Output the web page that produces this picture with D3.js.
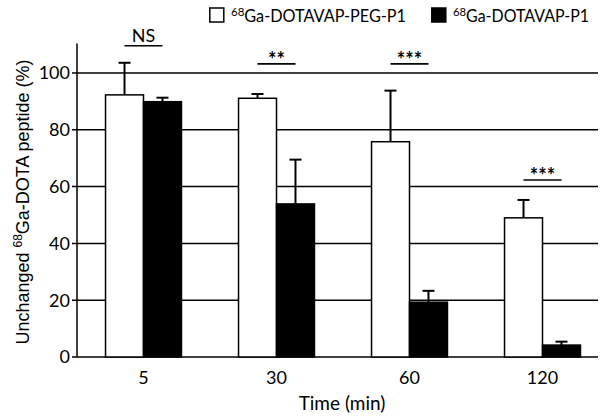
<!DOCTYPE html>
<html><head><meta charset="utf-8">
<script src="https://cdn.jsdelivr.net/npm/d3@7"></script>
<style>body{margin:0;background:#fff}svg{display:block}</style>
</head><body>
<svg id="c" width="600" height="419"></svg>
<script>
const categories = ["5", "30", "60", "120"];
const seriesNames = ["DOTAVAP-PEG-P1", "DOTAVAP-P1"];
const pegMeans = [92.3, 91.1, 75.8, 49.0];
const pegErr = [11.3, 1.5, 18.0, 6.3];
const p1Means = [89.9, 53.9, 19.3, 4.2];
const p1Err = [1.4, 15.6, 4.0, 1.2];
const yTicks = [0, 20, 40, 60, 80, 100];
const sigLabels = ["NS", "**", "***", "***"];
const sigLevels = [109.6, 103.2, 103.2, 62.3];

const svg = d3.select("#c");
const x0 = 77, xEnd = 598;
const y = d3.scaleLinear().domain([0, 110]).range([357, 44.6]);
const x = d3.scaleBand().domain(categories).range([77, 609]).paddingInner(0.429).paddingOuter(0.2145);
const xs = d3.scaleBand().domain(["peg", "p1"]).range([0, x.bandwidth()]);

// gridlines
svg.append("g").selectAll("line").data(yTicks).join("line")
  .attr("x1", x0 - 5).attr("x2", xEnd)
  .attr("y1", d => y(d)).attr("y2", d => y(d))
  .attr("stroke", "#000").attr("stroke-width", 1.5);
// y axis line
svg.append("line").attr("x1", x0).attr("x2", x0).attr("y1", y(110) - 1).attr("y2", y(0))
  .attr("stroke", "#000").attr("stroke-width", 1.5);
// y tick labels
svg.append("g").selectAll("text").data(yTicks).join("text")
  .attr("x", x0 - 7).attr("y", d => y(d)).attr("dy", "0.36em")
  .attr("text-anchor", "end").attr("font-family", "Lato").attr("font-size", 18)
  .text(d => d);

const rows = categories.map((c, i) => ([
  {c, k: "peg", v: pegMeans[i], e: pegErr[i], fill: "#fff"},
  {c, k: "p1", v: p1Means[i], e: p1Err[i], fill: "#000"}
])).flat();

// error bars (behind)
const eg = svg.append("g");
rows.forEach(d => {
  const cx = x(d.c) + xs(d.k) + xs.bandwidth() / 2;
  eg.append("line").attr("x1", cx).attr("x2", cx).attr("y1", y(d.v)).attr("y2", y(d.v + d.e))
    .attr("stroke", "#000").attr("stroke-width", 2);
  eg.append("line").attr("x1", cx - 6).attr("x2", cx + 6).attr("y1", y(d.v + d.e)).attr("y2", y(d.v + d.e))
    .attr("stroke", "#000").attr("stroke-width", 2);
});

// bars
svg.append("g").selectAll("rect").data(rows).join("rect")
  .attr("x", d => x(d.c) + xs(d.k)).attr("width", xs.bandwidth())
  .attr("y", d => y(d.v)).attr("height", d => y(0) - y(d.v))
  .attr("fill", d => d.fill).attr("stroke", "#000").attr("stroke-width", 1.5);

// x labels
svg.append("g").selectAll("text").data(categories).join("text")
  .attr("x", d => x(d) + x.bandwidth() / 2).attr("y", 384)
  .attr("text-anchor", "middle").attr("font-family", "Lato").attr("font-size", 18)
  .text(d => d);
svg.append("text").attr("x", 342).attr("y", 410).attr("text-anchor", "middle")
  .attr("font-family", "Lato").attr("font-size", 19).text("Time (min)");

// y title
const yt = svg.append("text").attr("transform", "translate(29,202) rotate(-90)")
  .attr("text-anchor", "middle").attr("font-family", "Liberation Sans").attr("font-size", 18);
yt.append("tspan").text("Unchanged ");
yt.append("tspan").attr("font-size", 12).attr("dy", -7).text("68");
yt.append("tspan").attr("dy", 7).text("Ga-DOTA peptide (%)");

// significance
categories.forEach((c, i) => {
  const cx = x(c) + x.bandwidth() / 2;
  const ly = y(sigLevels[i]);
  svg.append("line").attr("x1", cx - 19).attr("x2", cx + 19).attr("y1", ly).attr("y2", ly)
    .attr("stroke", "#000").attr("stroke-width", 1.6);
  const isNS = sigLabels[i] === "NS";
  svg.append("text").attr("x", cx).attr("y", isNS ? ly - 4 : ly + 3)
    .attr("text-anchor", "middle").attr("font-family", "Lato")
    .attr("font-size", isNS ? 18 : 20).attr("font-weight", isNS ? 400 : 700)
    .text(sigLabels[i]);
});

// legend
const leg = [
  {x: 209, fill: "#fff", name: seriesNames[0], len: 175},
  {x: 431, fill: "#000", name: seriesNames[1], len: 136}
];
leg.forEach(l => {
  svg.append("rect").attr("x", l.x + 0.8).attr("y", 8).attr("width", 14).attr("height", 14)
    .attr("fill", l.fill).attr("stroke", "#000").attr("stroke-width", 1.5);
  const t = svg.append("text").attr("x", l.x + 22).attr("y", 22)
    .attr("font-family", "Lato").attr("font-size", 17)
    .attr("textLength", l.len).attr("lengthAdjust", "spacingAndGlyphs");
  t.append("tspan").attr("font-size", 12).attr("dy", -6).text("68");
  t.append("tspan").attr("dy", 6).text("Ga-" + l.name);
});
</script>
</body></html>
